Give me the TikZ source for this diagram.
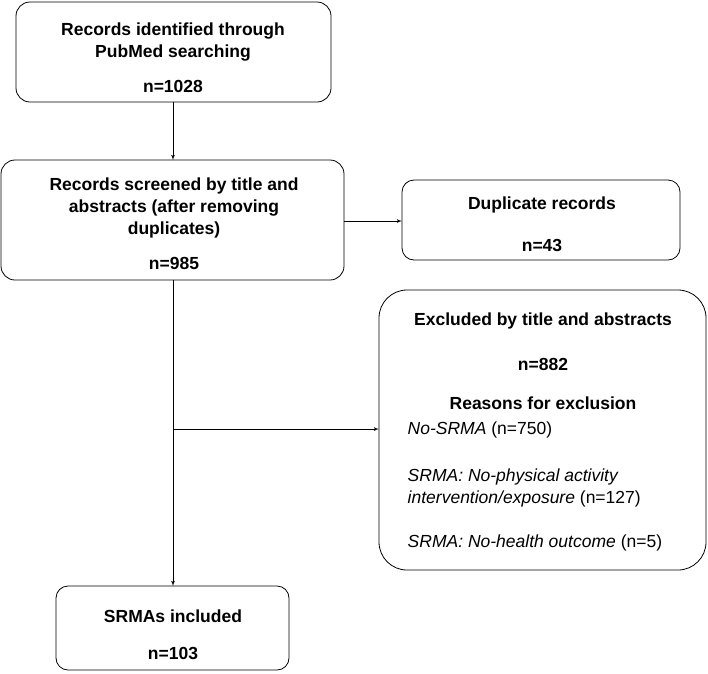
\documentclass[tikz,border=0pt]{standalone}
\usepackage{fontspec}
\setmainfont{Liberation Sans}
\usetikzlibrary{arrows}
\tikzstyle{txt}=[font=\bfseries\fontsize{17.5}{22}\selectfont, align=center]
\tikzstyle{itm}=[font=\fontsize{17.5}{22}\selectfont, anchor=west, align=left]
\begin{document}
\begin{tikzpicture}[x=1pt,y=-1pt,>=latex',thick]
  \useasboundingbox (0,0) rectangle (708,673);
  % boxes
  \draw[rounded corners=14pt] (16,2) rectangle (331,102);
  \draw[rounded corners=14pt] (1,160) rectangle (344,280);
  \draw[rounded corners=12pt] (402,180) rectangle (680,260);
  \draw[rounded corners=28pt] (379,290) rectangle (706,570);
  \draw[rounded corners=12pt] (56,586) rectangle (289,670);
  % texts
  \node[txt] (t1) at (173,42) {Records identified through\\PubMed searching};
  \node[txt] (n1) at (173,86) {n=1028};
  \node[txt] (t2) at (174,208) {Records screened by title and\\abstracts (after removing\\duplicates)};
  \node[txt] (n2) at (174,263) {n=985};
  \node[txt] (t3) at (542,205) {Duplicate records};
  \node[txt] (n3) at (542,245) {n=43};
  \node[txt] (t4) at (543,321) {Excluded by title and abstracts};
  \node[txt] (n4) at (543,364) {n=882};
  \node[txt] (r4) at (543,403) {Reasons for exclusion};
  \node[itm] (e1) at (404,430) {\textit{No-SRMA} (n=750)};
  \node[itm] (e2) at (404,488) {\textit{SRMA: No-physical activity}\\\textit{intervention/exposure} (n=127)};
  \node[itm] (e3) at (404,543) {\textit{SRMA: No-health outcome} (n=5)};
  \node[txt] (t5) at (173,616) {SRMAs included};
  \node[txt] (n5) at (173,653) {n=103};
  % connectors
  \coordinate (a1) at (173,102);
  \coordinate (a2) at (173,160);
  \coordinate (b1) at (344,221);
  \coordinate (b2) at (402,221);
  \coordinate (c1) at (173,280);
  \coordinate (c2) at (173,586);
  \coordinate (br) at (173,429);
  \coordinate (d2) at (379,429);
  \draw[->] (a1) -- (a2);
  \draw[->] (b1) -- (b2);
  \draw[->] (c1) -- (c2);
  \draw[->] (br) -- (d2);
\end{tikzpicture}
\end{document}
